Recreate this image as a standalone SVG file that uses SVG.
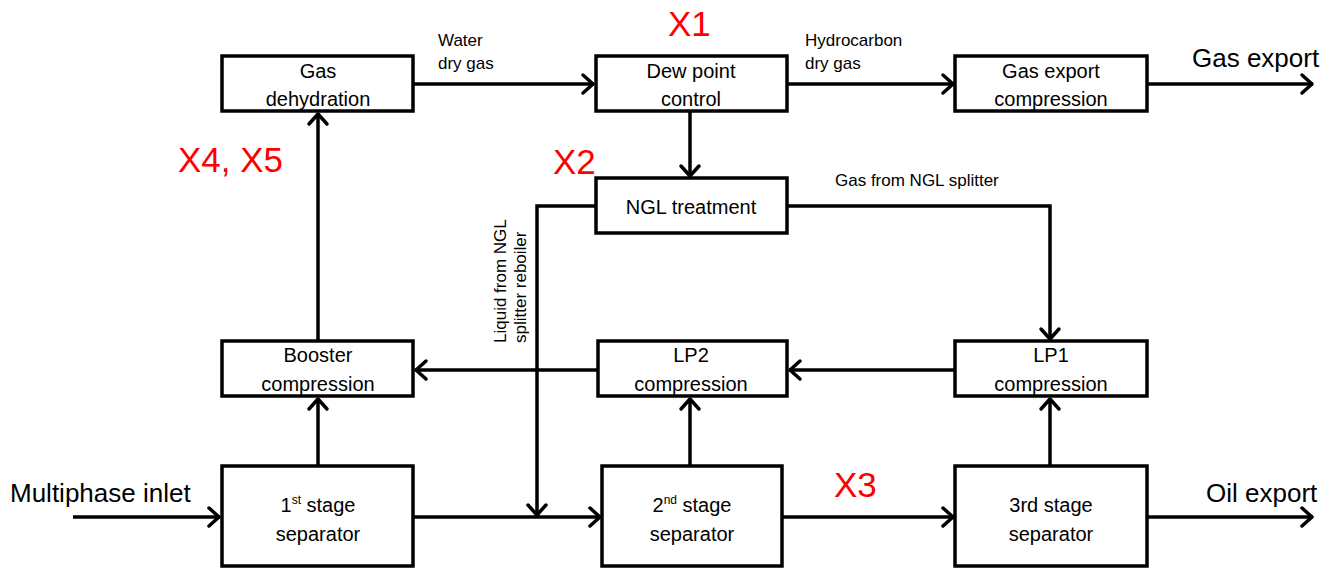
<svg xmlns="http://www.w3.org/2000/svg" width="1337" height="571" viewBox="0 0 1337 571">
<style>
.box{fill:#fff;stroke:#000;stroke-width:3.5}
.ln{fill:none;stroke:#000;stroke-width:3.5}
.arr{marker-end:url(#ah)}
.t{font-family:"Liberation Sans",Arial,sans-serif;font-size:20px;fill:#000;text-anchor:middle}
.s{font-family:"Liberation Sans",Arial,sans-serif;font-size:17px;fill:#000}
.b{font-family:"Liberation Sans",Arial,sans-serif;font-size:26px;fill:#000}
.r{font-family:"Liberation Sans",Arial,sans-serif;font-size:35px;fill:#f00}
</style>
<defs>
<marker id="ah" markerUnits="userSpaceOnUse" markerWidth="16" markerHeight="24" viewBox="0 0 16 24" refX="14" refY="12" orient="auto">
<path d="M3,3 L13,12 L3,21" fill="none" stroke="#000" stroke-width="3.5" stroke-linecap="round" stroke-linejoin="round"/>
</marker>
</defs>
<g id="connectors">
<line class="ln arr" x1="413" y1="84" x2="594" y2="84"/>
<line class="ln arr" x1="787" y1="84" x2="954" y2="84"/>
<line class="ln arr" x1="1147" y1="84" x2="1313" y2="84"/>
<line class="ln arr" x1="690" y1="111" x2="690" y2="177"/>
<polyline class="ln arr" points="596,206 537,206 537,516"/>
<polyline class="ln arr" points="787,206 1050,206 1050,340"/>
<line class="ln arr" x1="955" y1="370" x2="789" y2="370"/>
<line class="ln arr" x1="598" y1="370" x2="415" y2="370"/>
<line class="ln arr" x1="318" y1="341" x2="318" y2="113"/>
<line class="ln arr" x1="318" y1="466" x2="318" y2="398"/>
<line class="ln arr" x1="690" y1="466" x2="690" y2="398"/>
<line class="ln arr" x1="1050" y1="466" x2="1050" y2="398"/>
<line class="ln arr" x1="73" y1="517" x2="220" y2="517"/>
<line class="ln arr" x1="413" y1="517" x2="601" y2="517"/>
<line class="ln arr" x1="782" y1="517" x2="954" y2="517"/>
<line class="ln arr" x1="1147" y1="517" x2="1313" y2="517"/>
</g>
<g id="gas-dehydration"><rect class="box" x="222" y="56" width="191" height="55"/><text class="t" x="318" y="78">Gas</text><text class="t" x="318" y="106">dehydration</text></g>
<g id="dew-point"><rect class="box" x="596" y="56" width="191" height="55"/><text class="t" x="691" y="78">Dew point</text><text class="t" x="691" y="106">control</text></g>
<g id="gas-export-comp"><rect class="box" x="955" y="56" width="192" height="55"/><text class="t" x="1051" y="78">Gas export</text><text class="t" x="1051" y="106">compression</text></g>
<g id="ngl"><rect class="box" x="596" y="178" width="191" height="55"/><text class="t" x="691" y="214">NGL treatment</text></g>
<g id="booster"><rect class="box" x="222" y="341" width="191" height="55"/><text class="t" x="318" y="362">Booster</text><text class="t" x="318" y="391">compression</text></g>
<g id="lp2"><rect class="box" x="598" y="341" width="189" height="55"/><text class="t" x="691" y="362">LP2</text><text class="t" x="691" y="391">compression</text></g>
<g id="lp1"><rect class="box" x="955" y="341" width="192" height="55"/><text class="t" x="1051" y="362">LP1</text><text class="t" x="1051" y="391">compression</text></g>
<g id="sep1"><rect class="box" x="222" y="466" width="191" height="100"/><text class="t" x="318" y="512">1<tspan font-size="12" dy="-8">st</tspan><tspan dy="8"> stage</tspan></text><text class="t" x="318" y="541">separator</text></g>
<g id="sep2"><rect class="box" x="602" y="466" width="180" height="100"/><text class="t" x="692" y="512">2<tspan font-size="12" dy="-8">nd</tspan><tspan dy="8"> stage</tspan></text><text class="t" x="692" y="541">separator</text></g>
<g id="sep3"><rect class="box" x="955" y="466" width="192" height="100"/><text class="t" x="1051" y="512">3rd stage</text><text class="t" x="1051" y="541">separator</text></g>
<g id="labels">
<text class="s" x="438" y="46">Water</text>
<text class="s" x="438" y="69">dry  gas</text>
<text class="s" x="805" y="46">Hydrocarbon</text>
<text class="s" x="805" y="69">dry  gas</text>
<text class="s" x="835" y="186" font-size="16">Gas from NGL splitter</text>
<text class="s" transform="translate(506,343) rotate(-90)">Liquid from NGL</text>
<text class="s" transform="translate(526,343) rotate(-90)">splitter reboiler</text>
<text class="b" x="1192" y="67">Gas export</text>
<text class="b" x="10" y="502">Multiphase inlet</text>
<text class="b" x="1206" y="502">Oil export</text>
<text class="r" x="668" y="36">X1</text>
<text class="r" x="553" y="174">X2</text>
<text class="r" x="834" y="497">X3</text>
<text class="r" x="178" y="172">X4, X5</text>
</g>
</svg>
